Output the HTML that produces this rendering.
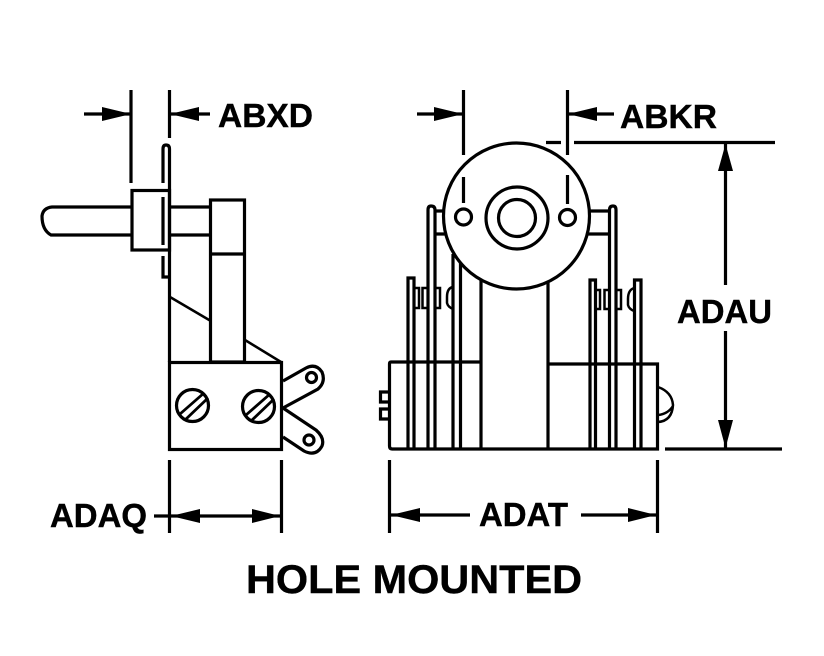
<!DOCTYPE html>
<html>
<head>
<meta charset="utf-8">
<style>
html,body{margin:0;padding:0;background:#fff;width:824px;height:656px;overflow:hidden}
svg{display:block}
text{font-family:"Liberation Sans",sans-serif;font-weight:bold;fill:#000;stroke:#000;stroke-width:.4}
</style>
</head>
<body>
<svg width="824" height="656" viewBox="0 0 824 656" xmlns="http://www.w3.org/2000/svg">
<g fill="none" stroke="#000" stroke-width="3.2">
<!-- LEFT VIEW -->
<path d="M131 90V183M169.5 90V138"/>
<path d="M163 183V149Q163 145 166 145Q169.5 145 169.5 149V362"/>
<path d="M163 197V245M163 256V277H169"/>
<rect x="132" y="190.500" width="37.500" height="59.500"/>
<path d="M132 207H52Q43 208 42 216Q42 230 51 235H132"/>
<path d="M170 207H210M170 235H210"/>
<rect x="210.500" y="200" width="34" height="162"/>
<path d="M210 254H245"/>
<path d="M170 297L210 320.500" stroke-width="2.500"/>
<path d="M245 340L281 362" stroke-width="2.500"/>
<rect x="169.500" y="362.500" width="112" height="87"/>
<circle cx="192.500" cy="405.500" r="16"/>
<circle cx="258.500" cy="406.500" r="16"/>
<path d="M180 414L204 393M185 420L208 398M246 415L270 394M251 421L274 399" stroke-width="2.800"/>
<!-- terminals -->
<path d="M283 381L306 368Q316 363 322 372Q326 382 318 389L283 408L316 430Q325 438 322 446Q316 457 304 451L283 437"/>
<circle cx="311.500" cy="377.500" r="5"/>
<circle cx="309" cy="440" r="5"/>
<!-- RIGHT VIEW dim lines -->
<path d="M463.500 90V155M463.500 177V203M567.500 90V155M567.500 175V204"/>
<path d="M546 142.500H561M574 142.500H775M665 449H782"/>
<!-- base -->
<path d="M481 362H391Q389.500 362 389.500 364V446Q389.500 449 392 449H657.500V364H548"/>
<path d="M481 280V449M548 280V449"/>
<!-- plates -->
<path d="M408 449V278H414V449"/>
<path d="M428 449V210Q428 206 431 206Q435 206 435 210V449"/>
<path d="M453 449V254M460.500 449V262"/>
<path d="M590 449V280H595.500V449"/>
<path d="M609.500 449V210Q609.500 206 613 206Q616 206 616 210V449"/>
<path d="M634.500 449V280H641V449"/>
<!-- small parts -->
<path d="M415 288H419V308H415" stroke-width="2.500"/>
<path d="M427 288H422.500V308H427M435 288H440V308H435" stroke-width="2.500"/>
<path d="M453 287Q447 288 447 297V303Q448 307 453 309" stroke-width="2.500"/>
<path d="M596 290H600V309H596M609 290H604.500V309H609M616 290H621V309H616" stroke-width="2.500"/>
<path d="M634 288Q628 290 628 299V305Q629 309 634 311" stroke-width="2.500"/>
<path d="M435 211H445M435 234H448M588 211H609M586 234H609"/>
<!-- circle head, white fill covers lines behind -->
<circle cx="516.500" cy="216" r="73" fill="#fff"/>
<circle cx="517" cy="218" r="31"/>
<circle cx="517" cy="218" r="18.500"/>
<circle cx="463.500" cy="217" r="8"/>
<circle cx="567.500" cy="217.500" r="8"/>
<path d="M463.500 177V203M567.500 175V204"/>
<!-- nubs and bump -->
<path d="M389 392H380.500V402H389M389 409H380.500V419H389"/>
<path d="M658 387Q672 392 673 405Q672 421 658 422M658 415Q668 414 673 406" stroke-width="2.500"/>
<!-- bottom dim ext -->
<path d="M169.500 460V533M281.500 460V533M389.500 460V533M657.500 460V533"/>
<path d="M154 516H281M390 515H470M581 515H657"/>
<path d="M84 114H131M170 114H210M417 114H463M568 114H614"/>
<path d="M725.500 143V285M725.500 331V449"/>
</g>
<g fill="#000">
<path d="M131 114L102 107V121Z"/>
<path d="M170 114L199 107V121Z"/>
<path d="M463 114L434 107V121Z"/>
<path d="M568 114L597 107V121Z"/>
<path d="M171 516L200 509V523Z"/>
<path d="M280 516L252 509V523Z"/>
<path d="M391 515L420 508V522Z"/>
<path d="M656 515L628 508V522Z"/>
<path d="M725.500 144L718 171H733Z"/>
<path d="M725.500 448L718 420H733Z"/>
</g>
<text x="218" y="127" font-size="33" textLength="95" lengthAdjust="spacingAndGlyphs">ABXD</text>
<text x="620" y="128" font-size="33" textLength="97" lengthAdjust="spacingAndGlyphs">ABKR</text>
<text x="677" y="323" font-size="33" textLength="95" lengthAdjust="spacingAndGlyphs">ADAU</text>
<text x="50" y="527" font-size="33" textLength="97" lengthAdjust="spacingAndGlyphs">ADAQ</text>
<text x="479" y="526" font-size="33" textLength="89" lengthAdjust="spacingAndGlyphs">ADAT</text>
<text x="246" y="593" font-size="40" textLength="336" lengthAdjust="spacingAndGlyphs">HOLE MOUNTED</text>
</svg>
</body>
</html>
